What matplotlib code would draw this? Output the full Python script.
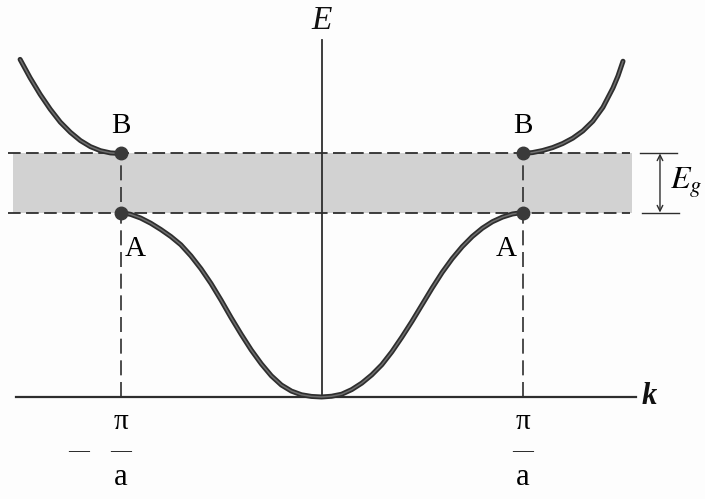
import matplotlib.pyplot as plt
import numpy as np

plt.rcParams['mathtext.fontset'] = 'stix'
plt.rcParams['font.family'] = ['Liberation Serif', 'DejaVu Serif']

# Lower band (k in units of pi/a, E in arbitrary units)
k_low = [-1.00, -0.95, -0.90, -0.85, -0.80, -0.75, -0.70, -0.65, -0.60, -0.55,
         -0.50, -0.45, -0.40, -0.35, -0.30, -0.25, -0.20, -0.15, -0.10, -0.05,
         0.00, 0.05, 0.10, 0.15, 0.20, 0.25, 0.30, 0.35, 0.40, 0.45,
         0.50, 0.55, 0.60, 0.65, 0.70, 0.75, 0.80, 0.85, 0.90, 0.95, 1.00]
E_low = [1.000, 0.990, 0.970, 0.942, 0.908, 0.870, 0.825, 0.765, 0.695, 0.615,
         0.525, 0.430, 0.340, 0.255, 0.180, 0.115, 0.065, 0.032, 0.012, 0.003,
         0.000, 0.004, 0.015, 0.040, 0.075, 0.120, 0.175, 0.245, 0.325, 0.410,
         0.500, 0.590, 0.675, 0.750, 0.815, 0.870, 0.915, 0.950, 0.975, 0.992, 1.000]

# Upper band, left and right branches
k_up_left = [-1.50, -1.45, -1.40, -1.35, -1.30, -1.25, -1.20, -1.15, -1.10, -1.05, -1.00]
E_up_left = [1.830, 1.730, 1.640, 1.560, 1.490, 1.435, 1.390, 1.357, 1.335, 1.323, 1.320]
k_up_right = [1.00, 1.05, 1.10, 1.15, 1.20, 1.25, 1.30, 1.35, 1.40, 1.45, 1.475, 1.50]
E_up_right = [1.320, 1.325, 1.336, 1.352, 1.374, 1.403, 1.442, 1.495, 1.570, 1.675, 1.740, 1.820]

# Band edges at the zone boundary
k_edge = [-1.0, 1.0]
E_A = 1.00
E_B = 1.32

ink = '#2e2e2e'

fig = plt.figure(figsize=(7.05, 4.99), dpi=100, facecolor='#fdfdfd')
ax = fig.add_axes([0, 0, 1, 1])
ax.set_xlim(-1.600, 1.908)
ax.set_ylim(-0.553, 2.152)
ax.axis('off')

# Energy gap band
ax.axhspan(E_A, E_B, xmin=(-1.535 + 1.6) / 3.508, xmax=(1.545 + 1.6) / 3.508,
           color='#d2d2d2', lw=0, zorder=0)
for e in (E_A, E_B):
    ax.plot([-1.56, 1.535], [e, e], color=ink, lw=1.3, dashes=(7, 3), zorder=1)

# Zone boundary dashed lines
for kk in k_edge:
    ax.plot([kk, kk], [0, E_B], color=ink, lw=1.2, dashes=(9, 4), zorder=1)

# Axes
ax.plot([-1.52, 1.565], [0, 0], color=ink, lw=1.6, zorder=2)
ax.plot([0, 0], [0, 1.935], color=ink, lw=1.3, zorder=2)
ax.text(0, 2.04, 'E', fontsize=24, fontstyle='italic', ha='center', va='center',
        color='#111111')
ax.text(1.59, 0.0, 'k', fontsize=22, fontstyle='italic', fontweight='bold',
        ha='left', va='center', color='#111111')

# Bands
for kx, ey in ((k_low, E_low), (k_up_left, E_up_left), (k_up_right, E_up_right)):
    ax.plot(kx, ey, color=ink, lw=3.6, solid_capstyle='round',
            solid_joinstyle='round', zorder=3)
    ax.plot(kx, ey, color='#6e6e6e', lw=1.1, solid_capstyle='round',
            solid_joinstyle='round', zorder=4)

# Band-edge points
ax.plot(k_edge, [E_B, E_B], 'o', color='#3a3a3a', ms=9, zorder=5)
ax.plot(k_edge, [E_A, E_A], 'o', color='#3a3a3a', ms=9, zorder=5)

ax.text(-1.0, 1.47, 'B', fontsize=21, ha='center', va='center')
ax.text(1.0, 1.47, 'B', fontsize=21, ha='center', va='center')
ax.text(-0.928, 0.80, 'A', fontsize=21, ha='center', va='center')
ax.text(0.918, 0.80, 'A', fontsize=21, ha='center', va='center')

# Gap marker
ax.plot([1.585, 1.77], [E_B, E_B], color=ink, lw=1.0)
ax.plot([1.595, 1.78], [E_A, E_A], color=ink, lw=1.0)
ax.annotate('', xy=(1.684, E_B), xytext=(1.684, E_A),
            arrowprops=dict(arrowstyle='<->', lw=1.0, color=ink,
                            shrinkA=0, shrinkB=0, mutation_scale=10))
ax.text(1.735, 1.16, r'$E_g$', fontsize=23, ha='left', va='center')

# Zone boundary labels
for kk in k_edge:
    ax.text(kk, -0.136, 'π', fontsize=21, ha='center', va='center')
    ax.text(kk, -0.298, '—', fontsize=15, ha='center', va='center')
    ax.text(kk, -0.439, 'a', fontsize=22, ha='center', va='center')
ax.text(-1.21, -0.298, '—', fontsize=15, ha='center', va='center')

fig.savefig('out.png', dpi=100, facecolor=fig.get_facecolor())
